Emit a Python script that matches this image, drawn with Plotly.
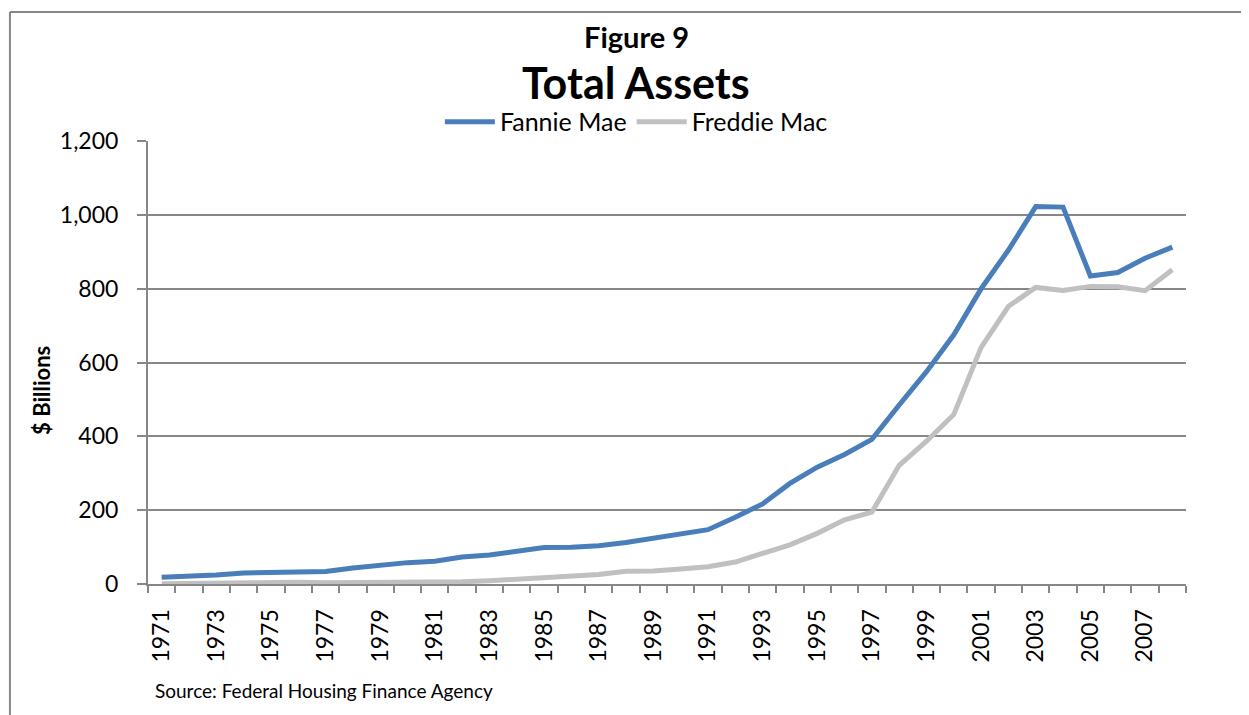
import plotly.graph_objects as go

years = list(range(1971, 2009))
fannie_mae = [18.6, 20.3, 24.3, 29.7, 31.6, 32.4, 34.0, 43.5, 51.3, 57.9,
              61.6, 73.0, 78.4, 87.8, 99.1, 99.6, 103.5, 112.3, 124.3, 133.1,
              147.1, 181.0, 217.0, 272.5, 316.6, 351.0, 391.7, 485.0, 575.2, 675.1,
              799.9, 904.7, 1022.3, 1020.9, 834.2, 843.9, 882.5, 912.4]
freddie_mac = [1.0, 1.7, 2.9, 4.9, 5.9, 4.8, 3.5, 3.7, 4.6, 5.5,
               6.3, 6.0, 9.0, 13.8, 16.6, 23.2, 25.7, 34.4, 35.5, 40.6,
               46.9, 59.5, 83.9, 106.2, 137.2, 173.9, 194.6, 321.4, 386.7, 459.3,
               641.1, 752.2, 803.4, 795.3, 806.2, 804.9, 794.4, 851.0]
label_years = list(range(1971, 2009, 2))

font = 'Lato, "Open Sans", sans-serif'
grey = '#878787'

fig = go.Figure()
fig.add_trace(go.Scatter(x=years, y=fannie_mae, name='Fannie Mae', mode='lines',
                         line=dict(color='#4A7EBB', width=5)))
fig.add_trace(go.Scatter(x=years, y=freddie_mac, name='Freddie Mac', mode='lines',
                         line=dict(color='#C0C0C0', width=5)))

# page body has an 8px margin, so the figure is a little smaller than the window
fig.update_layout(
    width=1241, height=707,
    margin=dict(l=140, r=63, t=133, b=131),
    paper_bgcolor='white', plot_bgcolor='white',
    font=dict(family=font, color='black'),
    showlegend=True,
    legend=dict(orientation='h', x=0.4705, xanchor='center', y=1.043, yanchor='middle',
                font=dict(size=25), bgcolor='rgba(0,0,0,0)', itemwidth=50,
                tracegroupgap=0),
    xaxis=dict(
        range=[1970.5, 2008.5], tickmode='array', tickvals=label_years,
        ticktext=[str(y) for y in label_years], tickangle=-90, ticks='',
        tickfont=dict(size=23), ticklabelstandoff=14,
        showgrid=False, zeroline=False,
        showline=True, linecolor=grey, linewidth=2,
        minor=dict(ticks='outside', tick0=1970.5, dtick=1, ticklen=7,
                   tickcolor=grey, tickwidth=2, showgrid=False),
    ),
    yaxis=dict(
        range=[0, 1200], dtick=200, tickformat=',', tickfont=dict(size=23),
        ticks='outside', ticklen=9, tickcolor=grey, tickwidth=2,
        ticklabelstandoff=14,
        showgrid=True, gridcolor=grey, gridwidth=1.5,
        zeroline=False, showline=True, linecolor=grey, linewidth=2,
    ),
    annotations=[
        dict(text='<b>Figure 9</b>', x=0.4705, y=1.237, xref='paper', yref='paper',
             yanchor='middle', showarrow=False, font=dict(size=29)),
        dict(text='<b>Total Assets</b>', x=0.4705, y=1.131, xref='paper', yref='paper',
             yanchor='middle', showarrow=False, font=dict(size=43)),
        dict(text='<b>$ Billions</b>', x=-0.102, y=0.436, xref='paper', yref='paper',
             xanchor='center', yanchor='middle',
             showarrow=False, textangle=-90, font=dict(size=22)),
        dict(text='Source: Federal Housing Finance Agency', x=0.005, y=-0.2415,
             xref='paper', yref='paper', xanchor='left', yanchor='middle',
             showarrow=False, font=dict(size=19)),
    ],
    shapes=[
        dict(type='line', xref='paper', yref='paper', x0=-0.133, x1=-0.133,
             y0=-0.4, y1=1.291, line=dict(color=grey, width=2)),
        dict(type='line', xref='paper', yref='paper', x0=-0.133, x1=1.2,
             y0=1.291, y1=1.291, line=dict(color=grey, width=2)),
    ],
)

fig.write_html("out.html")
